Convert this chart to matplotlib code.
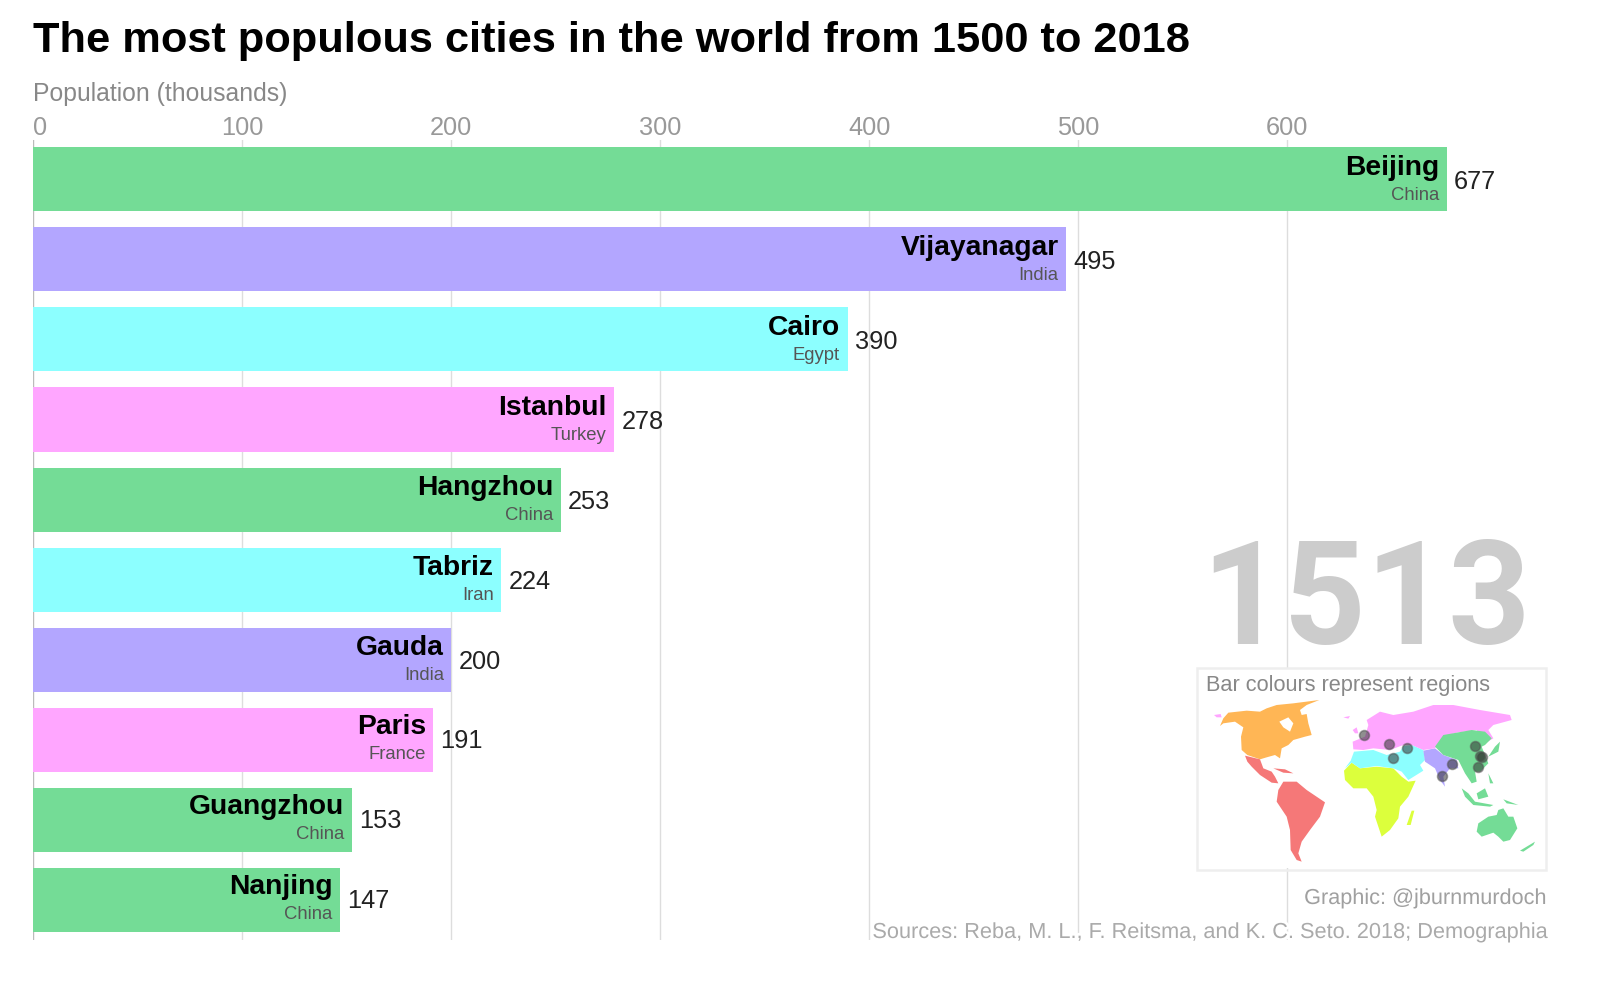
import matplotlib
matplotlib.use('Agg')
import matplotlib.pyplot as plt
from matplotlib.patches import Polygon, Rectangle
import matplotlib.patheffects as pe

plt.rcParams['font.family'] = ['Liberation Sans', 'DejaVu Sans']

# ─── Data ──────────────────────────────────────────────────────────
cities = ['Beijing', 'Vijayanagar', 'Cairo', 'Istanbul', 'Hangzhou',
          'Tabriz', 'Gauda', 'Paris', 'Guangzhou', 'Nanjing']
countries = ['China', 'India', 'Egypt', 'Turkey', 'China',
             'Iran', 'India', 'France', 'China', 'China']
population = [677, 495, 390, 278, 253, 224, 200, 191, 153, 147]
# the chart is a frame from an animation, so bars are a touch off the rounded labels
bar_lengths = [676.2, 494.2, 389.6, 278, 252.3, 224, 200, 191.4, 152.4, 146.6]
regions = ['east_asia', 'south_asia', 'middle_east', 'europe', 'east_asia',
           'middle_east', 'south_asia', 'europe', 'east_asia', 'east_asia']
ticks = [0, 100, 200, 300, 400, 500, 600]
year = '1513'

# where each city sits on the little map
map_dot_x = [945, 845, 699, 687, 965, 740, 875, 611, 953, 961]
map_dot_y = [317, 407, 353, 313, 352, 323, 372, 285, 380, 347]

colours = {
    'east_asia': '#74DC96',
    'south_asia': '#B3A6FF',
    'middle_east': '#8CFFFF',
    'europe': '#FFA6FF',
    'north_america': '#FFB655',
    'latin_america': '#F57878',
    'africa': '#DCFF3C',
}

# Rough continent outlines for the map
land = {
    'north_america': [
        [(180, 258), (190, 235), (205, 218), (260, 212), (300, 215), (320, 205), (350, 195),
         (400, 190), (478, 180), (440, 195), (420, 210), (425, 225), (440, 222), (445, 250),
         (455, 285), (435, 290), (400, 300), (385, 315), (365, 325), (360, 355), (345, 345),
         (320, 352), (300, 358), (262, 345), (245, 330), (243, 290), (250, 262), (225, 245),
         (190, 250)],
    ],
    'latin_america': [
        [(255, 347), (300, 358), (310, 385), (335, 395), (345, 410), (355, 430), (335, 428),
         (300, 405), (275, 380), (262, 365)],
        [(340, 385), (375, 388), (400, 400), (370, 398)],
        [(370, 425), (410, 425), (440, 450), (495, 487), (480, 530), (450, 570), (425, 605),
         (415, 640), (425, 665), (410, 660), (392, 630), (390, 570), (380, 530), (350, 485),
         (355, 450)],
    ],
    'africa': [
        [(552, 392), (575, 368), (600, 385), (650, 380), (700, 385), (725, 410), (745, 425),
         (767, 422), (745, 470), (720, 500), (715, 535), (690, 570), (665, 590), (645, 530),
         (650, 510), (640, 470), (620, 445), (580, 445), (555, 420)],
        [(755, 512), (763, 512), (752, 555), (740, 555)],
    ],
    'middle_east': [
        [(555, 385), (572, 362), (582, 335), (640, 330), (680, 345), (720, 335), (730, 318),
         (755, 315), (790, 330), (795, 360), (780, 375), (790, 392), (745, 420), (725, 395),
         (700, 385), (650, 378), (600, 385), (575, 368)],
    ],
    'south_asia': [
        [(790, 332), (825, 325), (850, 345), (890, 360), (895, 385), (870, 385), (850, 410),
         (855, 440), (840, 420), (825, 385), (795, 365)],
    ],
    'europe': [
        [(620, 240), (660, 215), (700, 225), (760, 215), (820, 195), (880, 195), (960, 210),
         (1050, 225), (1055, 240), (1000, 255), (985, 270), (1000, 295), (975, 310), (950, 270),
         (890, 278), (850, 290), (825, 325), (790, 330), (755, 315), (730, 315), (690, 330),
         (640, 325), (610, 330), (580, 328), (578, 305), (615, 290), (625, 255)],
        [(578, 270), (590, 262), (595, 280), (585, 280)],
        [(550, 232), (570, 228), (565, 236)],
        [(162, 225), (182, 222), (185, 232), (170, 232)],
    ],
    'east_asia': [
        [(825, 320), (850, 285), (890, 278), (935, 270), (975, 275), (995, 295), (975, 315),
         (965, 320), (985, 370), (960, 395), (945, 395), (950, 425), (935, 430), (915, 400),
         (895, 360), (850, 345)],
        [(1005, 320), (1020, 305), (1015, 335), (985, 350)],
        [(905, 445), (925, 460), (945, 485), (1000, 495), (990, 500), (940, 495), (915, 470)],
        [(950, 460), (975, 445), (985, 470), (955, 478)],
        [(1030, 478), (1075, 495), (1040, 490)],
        [(985, 400), (1000, 430), (990, 430)],
        [(950, 575), (955, 550), (985, 530), (1010, 525), (1015, 510), (1030, 505), (1045, 530),
         (1060, 530), (1072, 565), (1050, 600), (1030, 605), (1015, 590), (1000, 578), (965, 590)],
        [(1080, 632), (1125, 605), (1120, 615), (1090, 635)],
    ],
}
hudson_bay = [(358, 245), (385, 232), (400, 250), (390, 275), (370, 262)]

W, H = 1600, 982

# ─── Create figure ─────────────────────────────────────────────────
fig = plt.figure(figsize=(W / 100, H / 100), dpi=100, facecolor='white')
left, right, top, bottom = 33.3, 1547, 140, 940
ax = fig.add_axes([left / W, 1 - bottom / H, (right - left) / W, (bottom - top) / H])
ax.set_xlim(0, (right - left) / 2.09)
ax.set_ylim(9.5, -0.49)
ax.axis('off')

# ─── Gridlines ─────────────────────────────────────────────────────
for t in ticks:
    ax.axvline(t, color='#bbbbbb' if t == 0 else '#dddddd', lw=1.0, zorder=0)
    ax.annotate(str(t), xy=(t, 1), xycoords=('data', 'axes fraction'), xytext=(0, 0),
                textcoords='offset pixels', ha='left' if t == 0 else 'center', va='bottom',
                fontsize=18.3, color='#999999', annotation_clip=False)

# ─── Bars ──────────────────────────────────────────────────────────
ypos = list(range(len(cities)))
ax.barh(ypos, bar_lengths, height=0.8, color=[colours[r] for r in regions], zorder=2)

for y, city, country, val, end in zip(ypos, cities, countries, population, bar_lengths):
    drift = 0.2 * y  # text in lower rows sits a little higher in the bar
    ax.annotate(city, xy=(end, y), xytext=(-7.5, 4 + drift), textcoords='offset pixels',
                ha='right', va='baseline', fontsize=20.3, fontweight='bold', color='black', zorder=3)
    ax.annotate(country, xy=(end, y), xytext=(-7.5, -21 + drift), textcoords='offset pixels',
                ha='right', va='baseline', fontsize=13.3, color='#555555', zorder=3)
    ax.annotate(str(val), xy=(end, y), xytext=(7, -10 + drift), textcoords='offset pixels',
                ha='left', va='baseline', fontsize=18.3, color='#222222', zorder=3)

# ─── Titles ────────────────────────────────────────────────────────
def fig_text(px, py, s, **kw):
    return fig.text(px / W, 1 - py / H, s, va='baseline', **kw)

fig_text(33, 52, 'The most populous cities in the world from 1500 to 2018',
         fontsize=31.25, fontweight='bold', color='black')
fig_text(33, 101, 'Population (thousands)', fontsize=17.85, color='#888888')
fig_text(1366, 644, year, fontsize=103.5, fontweight='bold', color='#cccccc', ha='center',
         family=['Roboto', 'Liberation Sans'], zorder=5)

# ─── Map box ───────────────────────────────────────────────────────
mp = fig.add_axes([1160 / W, 1 - 870 / H, 380 / W, 230 / H])
mp.set_xlim(0, 1140)
mp.set_ylim(690, 0)
mp.axis('off')
mp.add_patch(Rectangle((111, 85), 1200, 600, facecolor='white', edgecolor='none', zorder=0, clip_on=False))
for region, shapes in land.items():
    for pts in shapes:
        mp.add_patch(Polygon(pts, closed=True, facecolor=colours[region], edgecolor='none', zorder=1))
mp.add_patch(Polygon(hudson_bay, closed=True, facecolor='white', edgecolor='none', zorder=1))
mp.scatter(map_dot_x, map_dot_y, s=50, facecolor='#333333', edgecolor='#555555',
           linewidth=1.2, alpha=0.55, zorder=2)

fig.add_artist(Rectangle((1197 / W, 1 - 870 / H), 349 / W, 202 / H, transform=fig.transFigure,
                         facecolor='none', edgecolor='#eeeeee', lw=1.8, zorder=6))
fig_text(1206, 691, 'Bar colours represent regions', fontsize=15.65, color='#888888', zorder=7)

# ─── Footer ────────────────────────────────────────────────────────
halo = [pe.withStroke(linewidth=4, foreground='white')]
fig_text(1546, 904, 'Graphic: @jburnmurdoch', fontsize=15.6, color='#a0a0a0', ha='right',
         path_effects=halo, zorder=7)
fig_text(1546, 938, 'Sources: Reba, M. L., F. Reitsma, and K. C. Seto. 2018; Demographia',
         fontsize=15.65, color='#aaaaaa', ha='right', path_effects=halo, zorder=7)

fig.savefig('out.png', dpi=100, facecolor='white')
